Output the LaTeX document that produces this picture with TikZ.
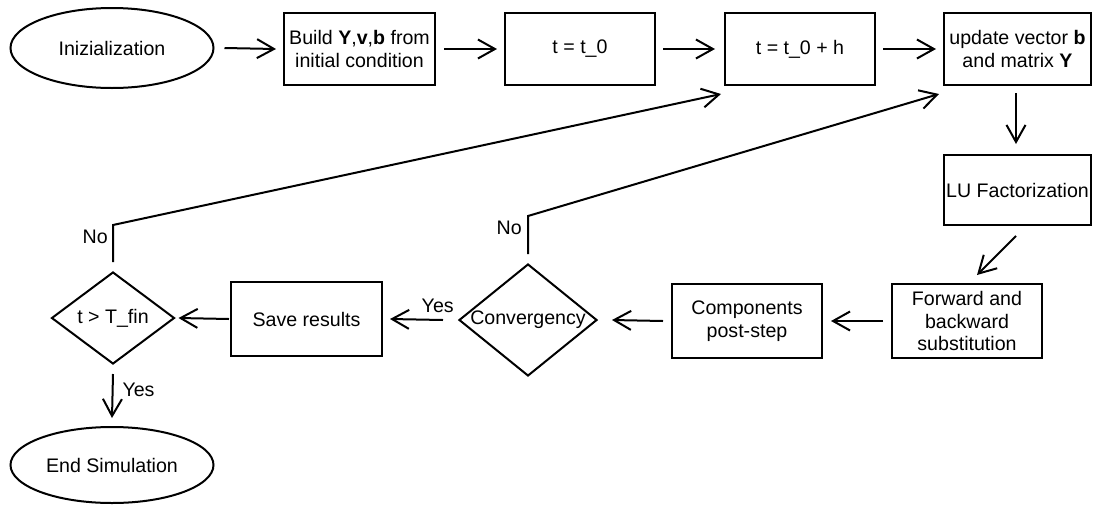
\documentclass[tikz,border=0pt]{standalone}
\usepackage{fontspec}
\setmainfont{Liberation Sans}
\usetikzlibrary{shapes.geometric,arrows.meta}
\tikzset{
  every node/.style={font=\fontsize{19.6}{22.5}\selectfont, inner sep=0pt, align=center},
  stepbox/.style={draw, line width=2pt, minimum width=150pt, minimum height=72pt},
  oval/.style={draw, ellipse, line width=2pt, minimum width=203pt, minimum height=80pt},
  choice/.style={draw, diamond, line width=2pt},
  arr/.style={line width=2pt, -{Straight Barb[length=17pt,width=19pt]}},
}
\begin{document}
\begin{tikzpicture}[x=1pt, y=-1pt]
\useasboundingbox (0,0) rectangle (1093,504);

% top row
\node[oval] (init) at (112,48) {Inizialization};
\node[stepbox, minimum width=151pt] (build) at (359.5,49) {Build \textbf{Y},\textbf{v},\textbf{b} from\\initial condition};
\node[stepbox] (t0) at (580,49) {t = t\_0};
\node[stepbox] (th) at (800,49) {t = t\_0 + h};
\node[stepbox, minimum width=147pt] (upd) at (1017.5,49) {update vector \textbf{b}\\and matrix \textbf{Y}};

% right column
\node[stepbox, minimum width=147pt, minimum height=70pt] (lu) at (1017.5,190) {LU Factorization};

% bottom row
\node[stepbox, minimum height=74pt] (fwd) at (967,321) {Forward and\\backward\\substitution};
\node[stepbox, minimum height=74pt] (comp) at (747,321) {Components\\post-step};
\node[choice, minimum width=138pt, minimum height=112pt, label={[name=convtxt]center:Convergency}] (conv) at (528,320) {};
\node[stepbox, minimum width=151pt, minimum height=74pt] (save) at (306.5,319) {Save results};
\node[choice, minimum width=123pt, minimum height=92pt, label={[name=tfintxt]center:t > T\_fin}] (tfin) at (113,318) {};
\node[oval, minimum height=76pt] (end) at (112,465) {End Simulation};

% bends of the feedback lines
\coordinate (n1) at (113,225);
\coordinate (n2) at (528,216);

% main flow
\draw[arr] ([xshift=10pt]init.east) -- ([xshift=-7pt]build.west);
\draw[arr] ([xshift=8pt]build.east) -- ([xshift=-7pt]t0.west);
\draw[arr] ([xshift=7pt]t0.east) -- ([xshift=-9pt]th.west);
\draw[arr] ([xshift=7pt]th.east) -- ([xshift=-7pt]upd.west);
\draw[arr] ([xshift=-1.5pt,yshift=-7pt]upd.south) -- ([xshift=-1.5pt,yshift=10pt]lu.north);
\draw[arr] ([xshift=-1.5pt,yshift=-10pt]lu.south) -- ([xshift=10pt,yshift=8pt]fwd.north);
\draw[arr] ([xshift=-8pt]fwd.west) -- ([xshift=8pt]comp.east);
\draw[arr] ([xshift=-8pt]comp.west) -- ([xshift=14pt]conv.east);
\draw[arr] ([xshift=-15pt]conv.west) -- ([xshift=7pt]save.east)
  node[pos=0.1, anchor=south, yshift=6pt] (yes1) {Yes};
\draw[arr] ([xshift=-1pt]save.west) -- ([xshift=3pt]tfin.east);
\draw[arr] ([yshift=-9pt]tfin.south) -- ([yshift=8pt]end.north)
  node[midway, anchor=west, xshift=9pt, yshift=6pt] (yes2) {Yes};

% feedback loops
\draw[arr] ([yshift=9pt]tfin.north) -- (n1) -- ([xshift=-3pt,yshift=-8pt]th.south west);
\node[anchor=east] (no1) at (108,237) {No};
\draw[arr] ([yshift=9pt]conv.north) -- (n2) -- ([xshift=-4pt,yshift=-8pt]upd.south west);
\node[anchor=east] (no2) at (522,228) {No};
\end{tikzpicture}
\end{document}
